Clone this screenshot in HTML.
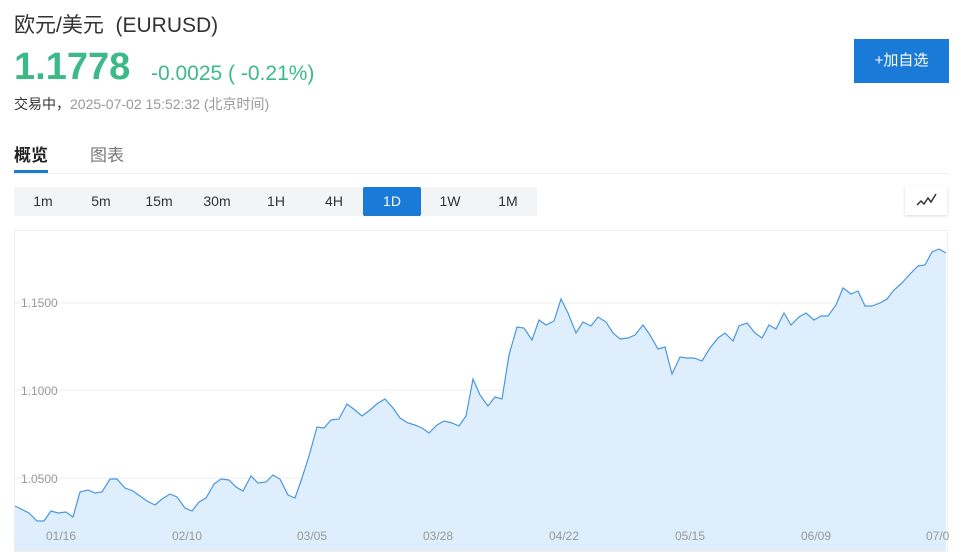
<!DOCTYPE html>
<html><head><meta charset="utf-8"><style>
body{margin:0;width:960px;height:559px;background:#fff;position:relative;overflow:hidden;font-family:"Liberation Sans","Noto Sans CJK SC",sans-serif}
.a{position:absolute;white-space:nowrap}
.tb{position:absolute;top:187px;height:29px;width:58px;line-height:29px;text-align:center;font-size:14px;color:#333}
</style></head><body>
<div class="a" style="left:14px;top:9px;font-size:21px;color:#333">欧元/美元&nbsp;&nbsp;(EURUSD)</div>
<div class="a" style="left:14px;top:46px;font-size:38px;font-weight:bold;color:#3cb989">1.1778</div>
<div class="a" style="left:151px;top:62px;font-size:21px;color:#3cb989">-0.0025 ( -0.21%)</div>
<div class="a" style="left:14px;top:94px;font-size:14px;color:#333">交易中，<span style="color:#999">2025-07-02 15:52:32 (北京时间)</span></div>
<div class="a" style="left:854px;top:39px;width:95px;height:44px;background:#1a7ad8;color:#fff;font-size:15px;line-height:44px;text-align:center">+加自选</div>
<div class="a" style="left:14px;top:141px;font-size:17px;font-weight:bold;color:#222">概览</div>
<div class="a" style="left:90px;top:141px;font-size:17px;color:#777">图表</div>
<div class="a" style="left:14px;top:173px;width:934px;height:1px;background:#eee"></div>
<div class="a" style="left:14px;top:170px;width:34px;height:3px;background:#1a7ad8"></div>
<div class="a" style="left:14px;top:187px;width:523px;height:29px;background:#f2f4f6"></div>
<div class="tb" style="left:14px">1m</div><div class="tb" style="left:72px">5m</div><div class="tb" style="left:130px">15m</div><div class="tb" style="left:188px">30m</div><div class="tb" style="left:247px">1H</div><div class="tb" style="left:305px">4H</div>
<div class="tb" style="left:363px;background:#1a7ad8;color:#fff;border-radius:2px">1D</div>
<div class="tb" style="left:421px">1W</div><div class="tb" style="left:479px">1M</div>
<div class="a" style="left:905px;top:186px;width:42px;height:29px;background:#fff;box-shadow:0 1px 3px rgba(0,0,0,.15)"><svg width="42" height="29"><polyline points="12,19 16,15 19,18 23,12 26,16 31,8" fill="none" stroke="#333" stroke-width="1.5"/></svg></div>
<svg class="a" style="left:0;top:0" width="960" height="559">
<rect x="14.5" y="230.5" width="933" height="321" fill="none" stroke="#eee"/>
<g stroke="#eee"><line x1="15" x2="947" y1="303" y2="303"/><line x1="15" x2="947" y1="390" y2="390"/><line x1="15" x2="947" y1="478" y2="478"/></g>
<polygon fill="#deeefd" points="15,551 15,506 29,513 37,521 44,521 51,511 58,513 66,512 73,517 80,492 88,490 95,493 102,492 110,479 117,479 125,488 133,491 140,496 147,501 155,505 162,499 170,494 177,497 185,508 192,511 199,502 206,498 214,484 221,479 229,480 236,487 243,491 251,476 258,483 266,482 273,475 280,479 288,495 295,498 302,478 309,456 317,427 324,428 331,420 339,419 347,404 355,410 362,416 370,410 378,403 385,399 393,408 400,418 408,423 415,425 422,428 429,433 437,425 444,421 452,423 459,426 466,416 473,379 480,395 488,406 495,397 502,399 509,355 517,327 524,328 532,340 539,320 546,325 554,321 561,299 568,313 576,333 583,322 591,326 598,317 606,322 613,333 620,339 628,338 635,335 643,325 650,335 658,349 665,347 672,374 680,357 687,358 694,358 702,361 710,348 718,338 725,333 733,341 739,326 747,323 755,333 762,338 769,325 776,329 784,313 791,325 799,317 806,313 814,320 821,316 828,316 836,305 843,288 851,294 858,291 865,306 872,306 880,303 887,299 894,290 902,283 910,274 918,266 925,265 932,252 939,249 946,253 946,551"/>
<polyline fill="none" stroke="#4a97e0" stroke-width="1.2" points="15,506 29,513 37,521 44,521 51,511 58,513 66,512 73,517 80,492 88,490 95,493 102,492 110,479 117,479 125,488 133,491 140,496 147,501 155,505 162,499 170,494 177,497 185,508 192,511 199,502 206,498 214,484 221,479 229,480 236,487 243,491 251,476 258,483 266,482 273,475 280,479 288,495 295,498 302,478 309,456 317,427 324,428 331,420 339,419 347,404 355,410 362,416 370,410 378,403 385,399 393,408 400,418 408,423 415,425 422,428 429,433 437,425 444,421 452,423 459,426 466,416 473,379 480,395 488,406 495,397 502,399 509,355 517,327 524,328 532,340 539,320 546,325 554,321 561,299 568,313 576,333 583,322 591,326 598,317 606,322 613,333 620,339 628,338 635,335 643,325 650,335 658,349 665,347 672,374 680,357 687,358 694,358 702,361 710,348 718,338 725,333 733,341 739,326 747,323 755,333 762,338 769,325 776,329 784,313 791,325 799,317 806,313 814,320 821,316 828,316 836,305 843,288 851,294 858,291 865,306 872,306 880,303 887,299 894,290 902,283 910,274 918,266 925,265 932,252 939,249 946,253"/>
<g fill="#999" font-size="12" font-family="Liberation Sans,sans-serif">
<text x="21" y="307">1.1500</text><text x="21" y="395">1.1000</text><text x="21" y="483">1.0500</text>
<text x="46" y="540">01/16</text><text x="172" y="540">02/10</text><text x="297" y="540">03/05</text><text x="423" y="540">03/28</text><text x="549" y="540">04/22</text><text x="675" y="540">05/15</text><text x="801" y="540">06/09</text><text x="926" y="540">07/0</text>
</g></svg>
</body></html>
